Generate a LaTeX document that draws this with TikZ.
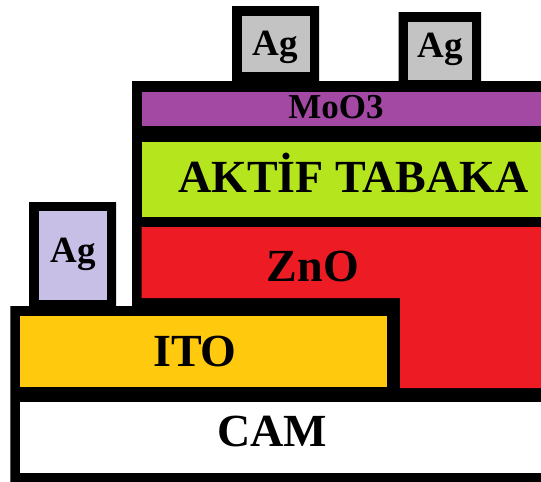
\documentclass[tikz,border=0pt]{standalone}
\usepackage{fontspec}
\setmainfont{Liberation Serif}

\definecolor{agGray}{HTML}{C3C3C3}
\definecolor{agLav}{HTML}{C8BFE7}
\definecolor{mooPurple}{HTML}{A349A4}
\definecolor{aktifLime}{HTML}{B5E61D}
\definecolor{znoRed}{HTML}{ED1C24}
\definecolor{itoGold}{HTML}{FFC90E}

\begin{document}
\begin{tikzpicture}[
  x=1pt, y=-1pt,
  slab/.style={inner sep=0pt, outer sep=0pt, anchor=north west},
  big/.style={font=\bfseries\fontsize{46}{46}\selectfont, anchor=base},
  small/.style={font=\bfseries\fontsize{37}{37}\selectfont, anchor=base},
]
  \useasboundingbox (0,0) rectangle (541,482);

  %% ── black frame ──
  \fill[black] (10.4,482) -- (10.4,306) -- (29,306) -- (29,202)
    -- (116,202) -- (116,306) -- (132,306) -- (132,81)
    -- (232,81) -- (232,6) -- (319,6) -- (319,81)
    -- (398.5,81) -- (398.5,12) -- (481,12) -- (481,81)
    -- (541,81) -- (541,482) -- cycle;

  %% ── Ag contacts ──
  \node[slab, fill=agGray, minimum width=68pt, minimum height=56pt]
    (ag1) at (241.5,16) {};
  \node[small] (ag1lbl) at (275.5,55) {Ag};
  \node[slab, fill=agGray, minimum width=64pt, minimum height=58pt]
    (ag2) at (408,22) {};
  \node[small] (ag2lbl) at (440,57.7) {Ag};
  \node[slab, fill=agLav, minimum width=67.5pt, minimum height=89pt]
    (agl) at (39,211) {};
  \node[small] (agllbl) at (73,262) {Ag};

  %% ── upper stack ──
  \node[slab, fill=mooPurple, minimum width=399.5pt, minimum height=34pt]
    (moo) at (141.5,92) {};
  \node[font=\bfseries\fontsize{35}{35}\selectfont, anchor=base]
    (moolbl) at (336,118.3) {MoO3};
  \node[slab, fill=aktifLime, minimum width=399.5pt, minimum height=75pt]
    (aktif) at (141.5,142) {};
  \node[big] (aktiflbl) at (353.5,192.7) {AKTİF TABAKA};

  %% ── ZnO ──
  \fill[znoRed] (141.5,227) -- (541,227) -- (541,388) -- (400,388)
    -- (400,298) -- (141.5,298) -- cycle;
  \node[big] (znolbl) at (313,281) {ZnO};

  %% ── ITO / CAM ──
  \node[slab, fill=itoGold, minimum width=367pt, minimum height=71pt]
    (ito) at (20,316) {};
  \node[big] (itolbl) at (195,366.3) {ITO};
  \node[slab, fill=white, minimum width=521pt, minimum height=71pt]
    (cam) at (20,402) {};
  \node[big] (camlbl) at (272,446) {CAM};
\end{tikzpicture}
\end{document}
